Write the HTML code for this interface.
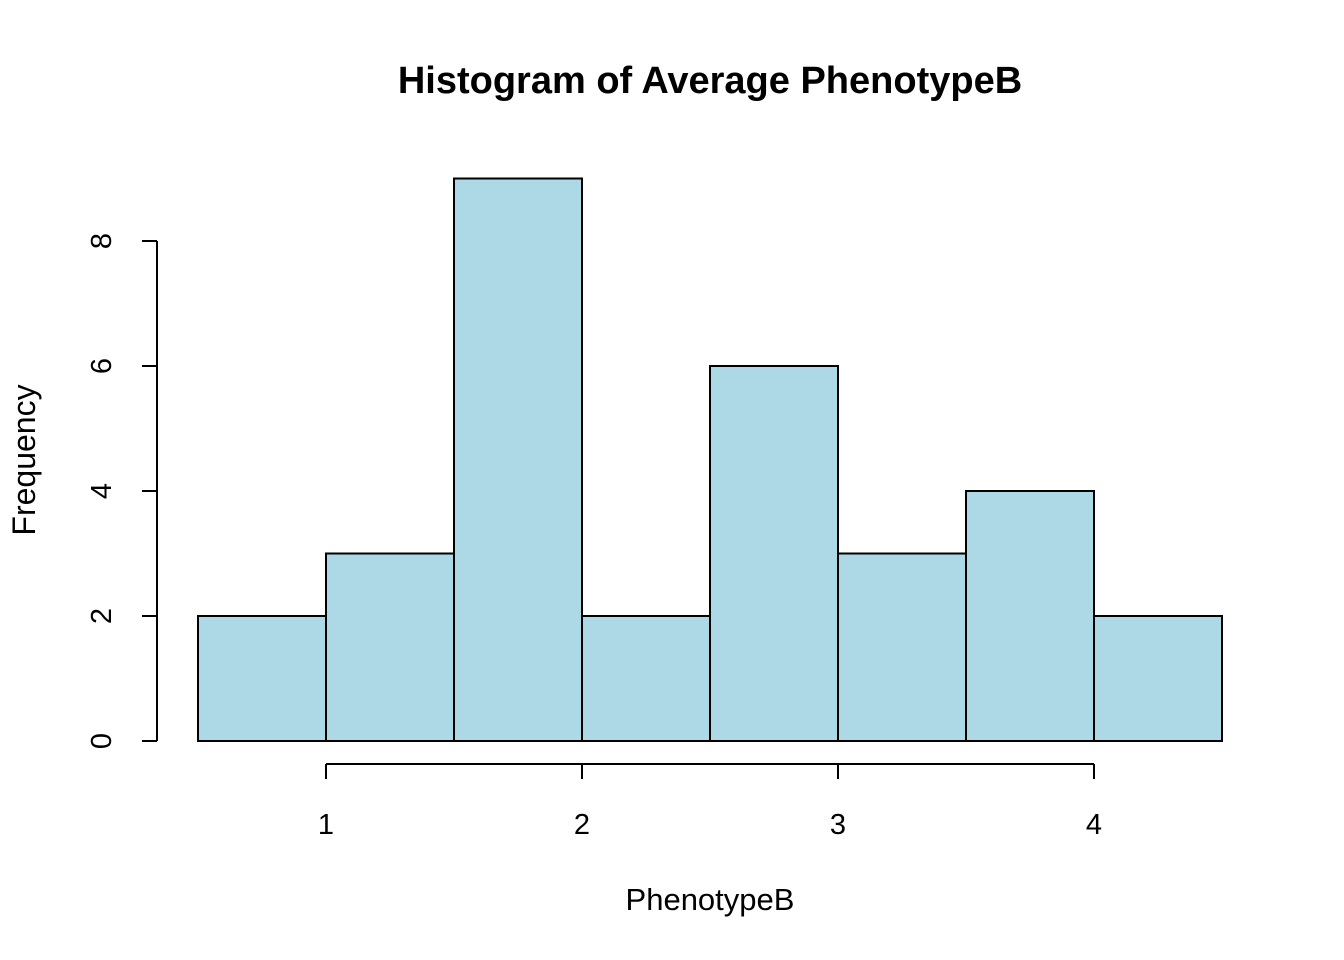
<!DOCTYPE html>
<html><head><meta charset="utf-8"><style>
html,body{margin:0;padding:0;background:#fff;}
svg{display:block;font-family:"Liberation Sans",Arial,sans-serif;}
</style></head><body>
<svg id="chart" width="1344" height="960" viewBox="0 0 1344 960">
<text x="710" y="93" text-anchor="middle" font-size="38" font-weight="bold">Histogram of Average PhenotypeB</text>
<text x="710" y="910" text-anchor="middle" font-size="31">PhenotypeB</text>
<text transform="translate(35,460) rotate(-90)" text-anchor="middle" font-size="32">Frequency</text>
<g id="bars"></g>
<g id="xaxis"></g>
<g id="yaxis"></g>
</svg>
<script>
const binStarts = [0.5, 1.0, 1.5, 2.0, 2.5, 3.0, 3.5, 4.0];
const counts = [2, 3, 9, 2, 6, 3, 4, 2];
const binWidth = 0.5;
const xTicks = [1, 2, 3, 4];
const yTicks = [0, 2, 4, 6, 8];

const NS = "http://www.w3.org/2000/svg";
const sx = v => 326 + (v - 1) * 256;
const sy = v => 741 - v * 62.5;
function mk(tag, attrs, parent) {
  const e = document.createElementNS(NS, tag);
  for (const k in attrs) e.setAttribute(k, attrs[k]);
  parent.appendChild(e);
  return e;
}
const bars = document.getElementById('bars');
counts.forEach((c, i) => {
  const x0 = sx(binStarts[i]), x1 = sx(binStarts[i] + binWidth);
  const r = mk('rect', {x: x0, y: sy(c), width: x1 - x0, height: sy(0) - sy(c), fill: '#add8e6', stroke: '#000', 'stroke-width': 2}, bars);
  
  
});
const xa = document.getElementById('xaxis');
mk('line', {x1: sx(xTicks[0]), x2: sx(xTicks[xTicks.length - 1]), y1: 764, y2: 764, stroke: '#000', 'stroke-width': 2}, xa);
xTicks.forEach(t => {
  mk('line', {x1: sx(t), x2: sx(t), y1: 764, y2: 779, stroke: '#000', 'stroke-width': 2}, xa);
  const tx = mk('text', {x: sx(t), y: 834, 'text-anchor': 'middle', 'font-size': 29}, xa);
  tx.textContent = t;
  
  
});
const ya = document.getElementById('yaxis');
mk('line', {x1: 157, x2: 157, y1: sy(yTicks[yTicks.length - 1]), y2: sy(yTicks[0]), stroke: '#000', 'stroke-width': 2}, ya);
yTicks.forEach(t => {
  mk('line', {x1: 142, x2: 157, y1: sy(t), y2: sy(t), stroke: '#000', 'stroke-width': 2}, ya);
  const tx = mk('text', {transform: 'translate(111,' + sy(t) + ') rotate(-90)', 'text-anchor': 'middle', 'font-size': 29}, ya);
  tx.textContent = t;
  
  
});
</script>
</body></html>
